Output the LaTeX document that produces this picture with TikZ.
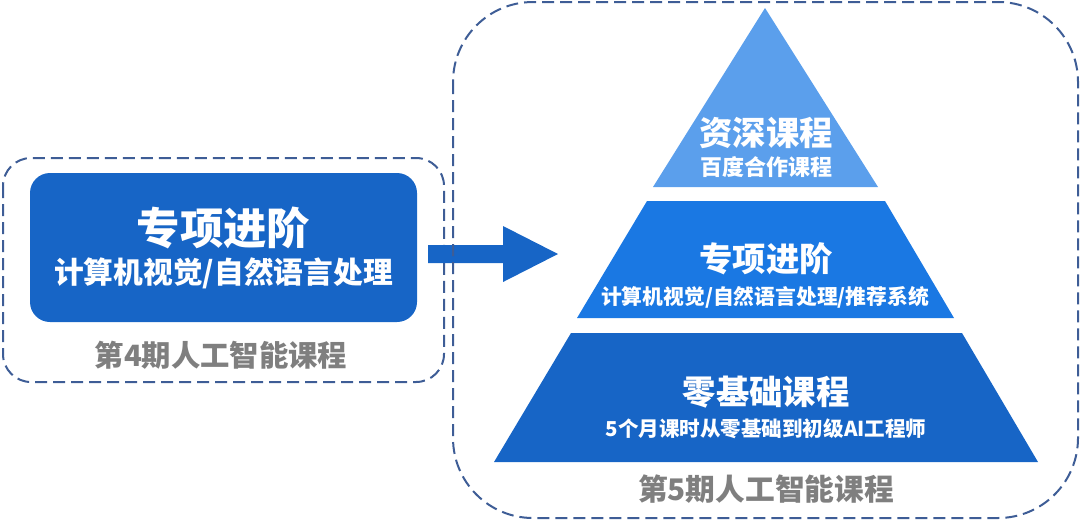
\documentclass[tikz,border=0pt]{standalone}
\usepackage{fontspec}
\setmainfont{Noto Sans CJK SC}
\definecolor{lightblue}{HTML}{5B9FEC}
\definecolor{midblue}{HTML}{1A78E3}
\definecolor{darkblue}{HTML}{1765C6}
\definecolor{dashcol}{HTML}{3E5D96}
\definecolor{graytext}{HTML}{7F7F7F}
\begin{document}
\begin{tikzpicture}[x=0.75pt,y=-0.75pt,
  dashbox/.style={draw=dashcol,line width=1.5pt,dash pattern=on 9pt off 4.5pt},
  wtext/.style={text=white,font=\bfseries,inner sep=0pt,align=center},
  gtext/.style={text=graytext,font=\bfseries,inner sep=0pt}]
\useasboundingbox (0,0) rectangle (1080,526);
% left group
\draw[dashbox,rounded corners=21pt] (3,158) rectangle (444,382);
\node[fill=darkblue,rounded corners=15pt,minimum width=387*0.75pt,minimum height=149*0.75pt,inner sep=0pt] (leftbox) at (223.5,247.5) {};
\node[wtext,font=\bfseries\fontsize{32.5}{36}\selectfont] (lefttitle) at (223.5,228) {专项进阶};
\node[wtext,font=\bfseries\fontsize{22.3}{26}\selectfont] (leftsub) at (223.5,273) {计算机视觉/自然语言处理};
\node[gtext,font=\bfseries\fontsize{22}{26}\selectfont] (leftlabel) at (221,355) {第4期人工智能课程};
% arrow
\fill[darkblue] (428,245) -- (503,245) -- (503,226) -- (558,254) -- (503,282) -- (503,263) -- (428,263) -- cycle;
% right group
\draw[dashbox,rounded corners=60pt] (453,2) rectangle (1078,518);
\fill[lightblue] (765,8) -- (878,187) -- (653,187) -- cycle;
\fill[midblue] (647,201) -- (885,201) -- (954,318) -- (577,318) -- cycle;
\fill[darkblue] (571,333) -- (962,333) -- (1038,462) -- (494,462) -- cycle;
\node[wtext,font=\bfseries\fontsize{25}{30}\selectfont] (toptitle) at (766,133) {资深课程};
\node[wtext,font=\bfseries\fontsize{16.5}{20}\selectfont] (topsub) at (766,167) {百度合作课程};
\node[wtext,font=\bfseries\fontsize{25}{30}\selectfont] (midtitle) at (766,259) {专项进阶};
\node[wtext,font=\bfseries\fontsize{15.6}{20}\selectfont] (midsub) at (765,297) {计算机视觉/自然语言处理/推荐系统};
\node[wtext,font=\bfseries\fontsize{15.4}{20}\selectfont] (botsub) at (766,429) {5个月课时从零基础到初级AI工程师};
\node[wtext,font=\bfseries\fontsize{25}{30}\selectfont] (bottitle) at (766,392) {零基础课程};
\node[gtext,font=\bfseries\fontsize{22.3}{26}\selectfont] (rightlabel) at (766,489) {第5期人工智能课程};
\end{tikzpicture}
\end{document}
